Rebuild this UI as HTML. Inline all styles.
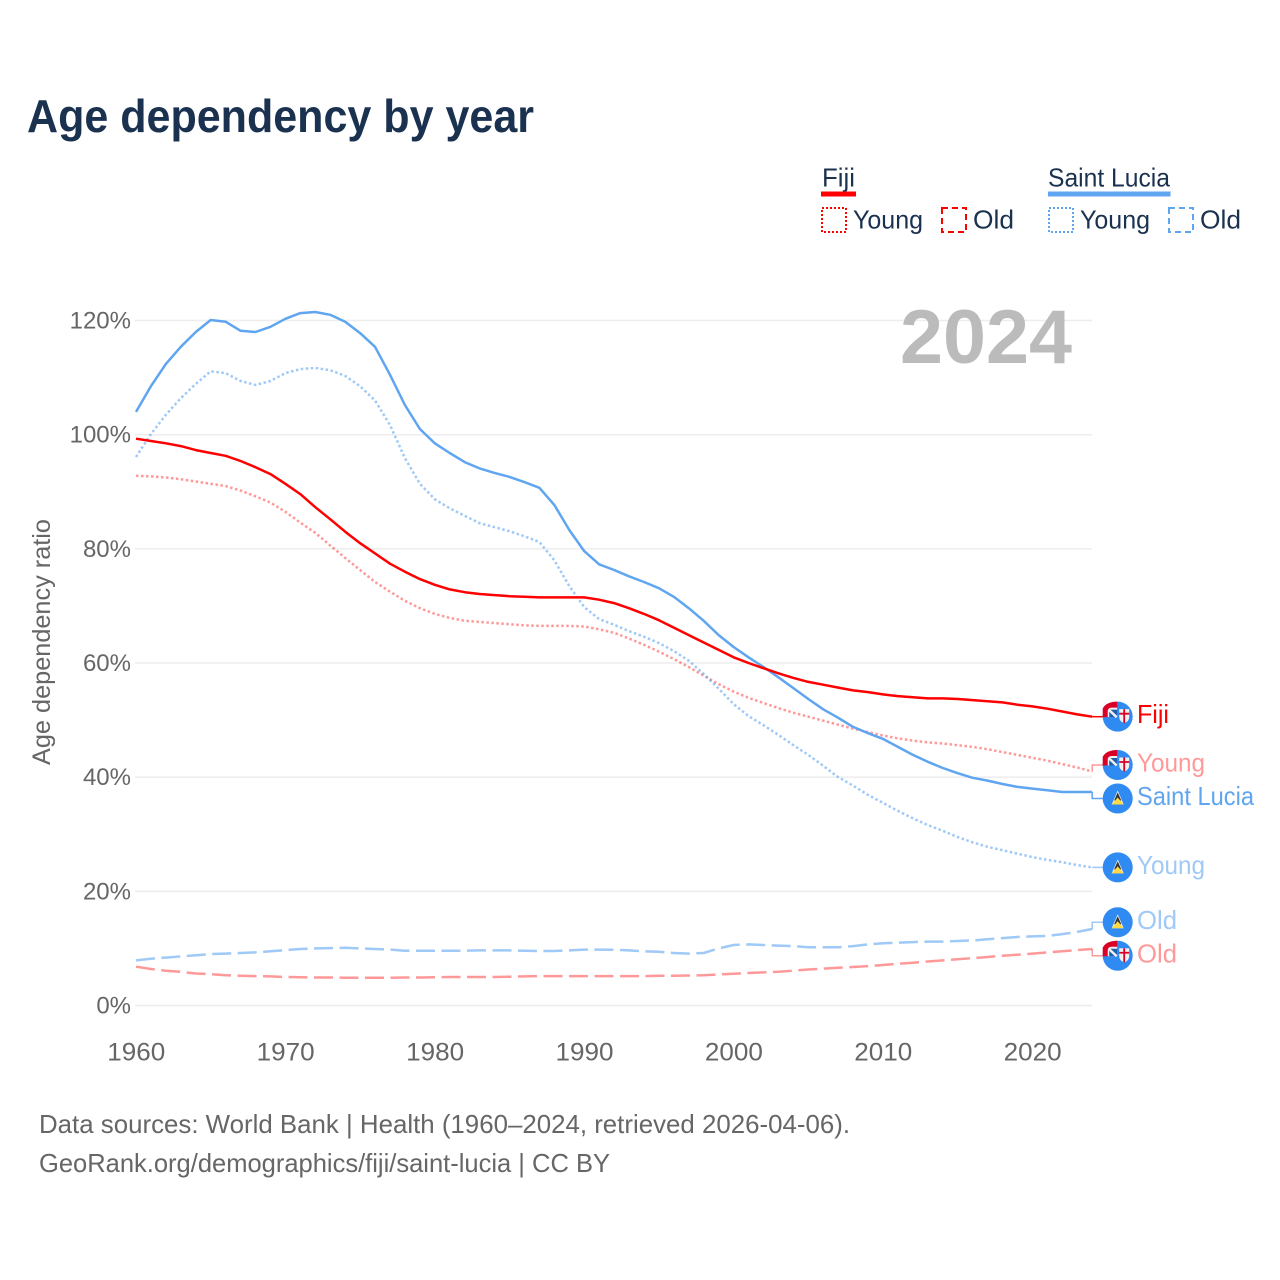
<!DOCTYPE html>
<html lang="en">
<head>
<meta charset="utf-8">
<title>Age dependency by year</title>
<style>
html,body{margin:0;padding:0;background:#fff}
svg{display:block}
text{font-family:"Liberation Sans",Arial,sans-serif}
</style>
</head>
<body>
<svg id="chart" xmlns="http://www.w3.org/2000/svg" width="1280" height="1280" viewBox="0 0 1280 1280">
  <text x="27" y="132" font-size="46" font-weight="700" fill="#1a3150" textLength="507" lengthAdjust="spacingAndGlyphs">Age dependency by year</text>

  <g>
    <g>
      <text x="822" y="186.500" font-size="26" fill="#1a3150" textLength="33" lengthAdjust="spacingAndGlyphs">Fiji</text>
      <rect x="821" y="191.500" width="35" height="5" fill="#ff0000"/>
      <rect x="822" y="208" width="24" height="24" fill="none" stroke="#ff0000" stroke-width="2" stroke-dasharray="2 2"/>
      <text x="853" y="228.500" font-size="26" fill="#1a3150" textLength="70" lengthAdjust="spacingAndGlyphs">Young</text>
      <rect x="942" y="208" width="24" height="24" fill="none" stroke="#ff0000" stroke-width="2" stroke-dasharray="6 4"/>
      <text x="973" y="228.500" font-size="26" fill="#1a3150" textLength="41" lengthAdjust="spacingAndGlyphs">Old</text>
    </g>
    <g>
      <text x="1048" y="186.500" font-size="26" fill="#1a3150" textLength="122" lengthAdjust="spacingAndGlyphs">Saint Lucia</text>
      <rect x="1048" y="191.500" width="122.500" height="5" fill="#5fa5f0"/>
      <rect x="1049" y="208" width="24" height="24" fill="none" stroke="#5fa5f0" stroke-width="2" stroke-dasharray="2 2"/>
      <text x="1080" y="228.500" font-size="26" fill="#1a3150" textLength="70" lengthAdjust="spacingAndGlyphs">Young</text>
      <rect x="1169" y="208" width="24" height="24" fill="none" stroke="#5fa5f0" stroke-width="2" stroke-dasharray="6 4"/>
      <text x="1200" y="228.500" font-size="26" fill="#1a3150" textLength="41" lengthAdjust="spacingAndGlyphs">Old</text>
    </g>
  </g>

  <g id="grid"></g>
  <g id="yticks"></g>
  <g id="xticks"></g>
  <text transform="translate(50,642) rotate(-90)" text-anchor="middle" font-size="25" fill="#666666" textLength="246" lengthAdjust="spacingAndGlyphs">Age dependency ratio</text>
  <text x="900" y="363" font-size="76" font-weight="700" fill="#bbbbbb" textLength="172" lengthAdjust="spacingAndGlyphs">2024</text>

  <g id="series"></g>
  <g id="labels"></g>

  <text x="39" y="1133" font-size="26" fill="#666666" textLength="811" lengthAdjust="spacingAndGlyphs">Data sources: World Bank | Health (1960–2024, retrieved 2026-04-06).</text>
  <text x="39" y="1172" font-size="26" fill="#666666" textLength="571" lengthAdjust="spacingAndGlyphs">GeoRank.org/demographics/fiji/saint-lucia | CC BY</text>
</svg>

<script>
const yearStart = 1960;
const xTickYears = [1960, 1970, 1980, 1990, 2000, 2010, 2020];
const yTickValues = [0, 20, 40, 60, 80, 100, 120];
const yTickLabels = ["0%", "20%", "40%", "60%", "80%", "100%", "120%"];

const fijiTotal = [
  99.3,98.9,98.5,98.0,97.3,96.8,96.3,95.4,94.3,93.1,
  91.4,89.6,87.3,85.2,83.0,81.0,79.2,77.4,76.0,74.7,
  73.7,72.9,72.4,72.1,71.9,71.7,71.6,71.5,71.5,71.5,
  71.5,71.1,70.5,69.6,68.6,67.5,66.2,64.9,63.6,62.3,
  61.0,60.0,59.1,58.2,57.4,56.7,56.2,55.7,55.2,54.9,
  54.5,54.2,54.0,53.8,53.8,53.7,53.5,53.3,53.1,52.7,
  52.4,52.0,51.5,51.0,50.6];
const fijiYoung = [
  92.8,92.7,92.5,92.2,91.8,91.4,91.0,90.2,89.2,88.1,
  86.5,84.6,82.8,80.6,78.4,76.3,74.2,72.5,70.9,69.6,
  68.6,67.9,67.4,67.2,67.0,66.8,66.6,66.5,66.5,66.5,
  66.4,65.9,65.3,64.3,63.2,62.0,60.7,59.3,57.8,56.3,
  55.0,53.9,53.0,52.1,51.3,50.6,49.9,49.2,48.5,47.9,
  47.3,46.8,46.4,46.1,45.9,45.6,45.3,44.9,44.4,43.9,
  43.4,42.9,42.3,41.7,41.0];
const fijiOld = [
  6.8,6.4,6.1,5.9,5.6,5.5,5.3,5.2,5.15,5.1,
  5.0,4.95,4.9,4.9,4.85,4.85,4.85,4.85,4.9,4.9,
  4.95,5.0,5.0,5.0,5.0,5.05,5.1,5.15,5.15,5.15,
  5.15,5.15,5.15,5.15,5.15,5.2,5.2,5.25,5.3,5.45,
  5.55,5.7,5.8,5.9,6.1,6.3,6.45,6.6,6.75,6.9,
  7.1,7.3,7.5,7.7,7.9,8.1,8.3,8.5,8.7,8.9,
  9.1,9.3,9.5,9.7,9.9];
const luciaTotal = [
  104.0,108.5,112.4,115.4,118.0,120.1,119.8,118.2,118.0,118.9,
  120.3,121.3,121.5,121.0,119.8,117.8,115.4,110.5,105.2,101.0,
  98.5,96.8,95.2,94.1,93.3,92.6,91.7,90.7,87.7,83.3,
  79.6,77.3,76.3,75.2,74.2,73.1,71.6,69.6,67.4,64.9,
  62.8,61.0,59.3,57.5,55.6,53.7,51.9,50.4,48.8,47.7,
  46.7,45.3,43.9,42.7,41.6,40.7,39.9,39.4,38.8,38.3,
  38.0,37.7,37.4,37.4,37.4];
const luciaYoung = [
  96.1,100.1,103.5,106.4,108.9,111.1,110.8,109.4,108.7,109.4,
  110.8,111.5,111.7,111.3,110.3,108.5,106.0,101.7,95.9,91.4,
  88.7,87.1,85.8,84.5,83.8,83.1,82.2,81.2,78.0,73.5,
  69.8,67.7,66.7,65.6,64.6,63.5,62.1,60.4,58.1,55.5,
  52.8,50.7,49.1,47.4,45.6,43.9,42.0,40.0,38.5,36.9,
  35.5,34.1,32.8,31.6,30.6,29.5,28.6,27.8,27.2,26.6,
  26.0,25.5,25.1,24.6,24.2];
const luciaOld = [
  7.9,8.2,8.4,8.6,8.8,9.0,9.1,9.2,9.3,9.5,
  9.7,9.9,10.0,10.05,10.1,10.0,9.9,9.8,9.6,9.6,
  9.6,9.6,9.6,9.65,9.65,9.65,9.6,9.55,9.55,9.65,
  9.8,9.8,9.75,9.65,9.5,9.4,9.2,9.1,9.2,10.0,
  10.6,10.7,10.6,10.5,10.4,10.2,10.2,10.2,10.4,10.7,
  10.9,11.0,11.1,11.2,11.2,11.3,11.4,11.6,11.8,12.0,
  12.1,12.2,12.5,12.9,13.4];

const seriesList = [
  {key:"fiji-old", label:"Old", country:"fiji", values:fijiOld, color:"#ff0000", opacity:0.4, width:2.5, dash:"19 6.5"},
  {key:"saint-lucia-old", label:"Old", country:"lucia", values:luciaOld, color:"#5fa5f0", opacity:0.6, width:2.5, dash:"19 6.5"},
  {key:"fiji-young", label:"Young", country:"fiji", values:fijiYoung, color:"#ff0000", opacity:0.4, width:2.5, dash:"2.5 2.5"},
  {key:"saint-lucia-young", label:"Young", country:"lucia", values:luciaYoung, color:"#5fa5f0", opacity:0.6, width:2.5, dash:"2.5 2.5"},
  {key:"saint-lucia-total", label:"Saint Lucia", country:"lucia", values:luciaTotal, color:"#5fa5f0", opacity:1, width:2.5, dash:""},
  {key:"fiji-total", label:"Fiji", country:"fiji", values:fijiTotal, color:"#ff0000", opacity:1, width:2.5, dash:""}
];

const NS = "http://www.w3.org/2000/svg";
function xScale(year){ return 136 + (year - 1960) * 14.94; }
function yScale(v){ return 1005.5 - v * 5.708; }
function make(tag, attrs, parent){
  const el = document.createElementNS(NS, tag);
  for (const k in attrs) el.setAttribute(k, attrs[k]);
  parent.appendChild(el);
  return el;
}

const gridG = document.getElementById("grid");
const yG = document.getElementById("yticks");
yTickValues.forEach(function(v, i){
  const line = make("line", {x1:135, x2:1092, y1:yScale(v), y2:yScale(v), stroke:"#ededed", "stroke-width":1.5}, gridG);
  
  
  const t = make("text", {x:131, y:yScale(v)+8, "text-anchor":"end", "font-size":24, fill:"#666666"}, yG);
  t.textContent = yTickLabels[i];
  
  
});

const xG = document.getElementById("xticks");
xTickYears.forEach(function(year){
  const t = make("text", {x:xScale(year)+0.3, y:1060.5, "text-anchor":"middle", "font-size":25, fill:"#666666", textLength:58, lengthAdjust:"spacingAndGlyphs"}, xG);
  t.textContent = String(year);
  
  
});

/* end-label layout: push neighbouring labels apart by a minimum gap */
const minGap = 33.5;
const placed = seriesList.map(function(s){
  return {s:s, y0:yScale(s.values[s.values.length-1]), y:yScale(s.values[s.values.length-1])};
}).sort(function(a,b){ return a.y0 - b.y0; });
for (let pass = 0; pass < 40; pass++){
  for (let i = 0; i < placed.length - 1; i++){
    const gap = placed[i+1].y - placed[i].y;
    if (gap < minGap){
      const d = (minGap - gap) / 2;
      placed[i].y -= d;
      placed[i+1].y += d;
    }
  }
}

const seriesG = document.getElementById("series");
const labelsG = document.getElementById("labels");

function drawFijiFlag(g, cy){
  const cx = 1117.7;
  const c = make("circle", {cx:cx, cy:cy, r:15, fill:"#2f8bf2"}, g);
  
  
  const red = make("path", {d:"M"+(cx-15)+" "+(cy+0.5)+" V"+(cy-8)+" Q"+(cx-12)+" "+(cy-14.7)+" "+(cx-0.5)+" "+(cy-15)+" V"+(cy+0.5)+" Z", fill:"#d80027"}, g);
  
  
  const wh = make("path", {d:"M"+(cx-10)+" "+(cy+0.5)+" V"+(cy-5)+" Q"+(cx-10)+" "+(cy-9)+" "+(cx-6)+" "+(cy-9)+" H"+(cx-0.5)+" V"+(cy+0.5)+" Z", fill:"#f0f0f0"}, g);
  
  
  const navy = make("rect", {x:cx-8.5, y:cy-7, width:8, height:7.5, fill:"#1f5fb0"}, g);
  
  
  const diag = make("path", {d:"M"+(cx-9)+" "+(cy-7)+" L"+(cx-1)+" "+(cy+0.5), stroke:"#f0f0f0", "stroke-width":2.5, fill:"none"}, g);
  
  
  const shield = make("path", {d:"M"+(cx+1.5)+" "+(cy-7.5)+" H"+(cx+11.5)+" V"+(cy)+" Q"+(cx+11.5)+" "+(cy+5)+" "+(cx+6.5)+" "+(cy+6.5)+" Q"+(cx+1.5)+" "+(cy+5)+" "+(cx+1.5)+" "+(cy)+" Z", fill:"#f0f0f0"}, g);
  
  
  const cross = make("path", {d:"M"+(cx+6.5)+" "+(cy-7.5)+" V"+(cy+6.5)+" M"+(cx+1.5)+" "+(cy-3)+" H"+(cx+11.5), stroke:"#d80027", "stroke-width":1.8, fill:"none"}, g);
  
  
}
function drawLuciaFlag(g, cy){
  const cx = 1117.7;
  const c = make("circle", {cx:cx, cy:cy, r:15, fill:"#2f8bf2"}, g);
  
  
  const wh = make("path", {d:"M"+cx+" "+(cy-8)+" L"+(cx+6)+" "+(cy+6)+" H"+(cx-6)+" Z", fill:"#f0f0f0"}, g);
  
  
  const bl = make("path", {d:"M"+cx+" "+(cy-6)+" L"+(cx+3.6)+" "+(cy+2)+" H"+(cx-3.6)+" Z", fill:"#333333"}, g);
  
  
  const ye = make("path", {d:"M"+cx+" "+(cy-1)+" L"+(cx+6)+" "+(cy+6)+" H"+(cx-6)+" Z", fill:"#ffda44"}, g);
  
  
}

seriesList.forEach(function(s){
  const pts = s.values.map(function(v, i){
    return (i ? "L" : "M") + xScale(yearStart + i).toFixed(1) + " " + yScale(v).toFixed(1);
  }).join(" ");
  const p = make("path", {d:pts, fill:"none", stroke:s.color, "stroke-opacity":s.opacity, "stroke-width":s.width, "stroke-linejoin":"round", "stroke-dasharray":s.dash}, seriesG);
  
  
  const entry = placed.find(function(q){ return q.s === s; });
  const conn = make("path", {d:"M" + xScale(yearStart + s.values.length - 1).toFixed(1) + " " + entry.y0.toFixed(1) + " V" + entry.y.toFixed(1) + " H1103", fill:"none", stroke:s.color, "stroke-opacity":s.opacity, "stroke-width":1.5}, seriesG);
  
  
});

placed.slice().reverse().forEach(function(entry){
  const s = entry.s;
  const g = make("g", {}, labelsG);
  
  
  if (s.country === "fiji") drawFijiFlag(g, entry.y); else drawLuciaFlag(g, entry.y);
  const widths = {"Fiji":32, "Young":68, "Saint Lucia":117, "Old":40};
  const t = make("text", {x:1137, y:entry.y+6.5, "font-size":26, fill:s.color, "fill-opacity":s.opacity, textLength:widths[s.label], lengthAdjust:"spacingAndGlyphs"}, g);
  t.textContent = s.label;
  
  
});
</script>
</body>
</html>
